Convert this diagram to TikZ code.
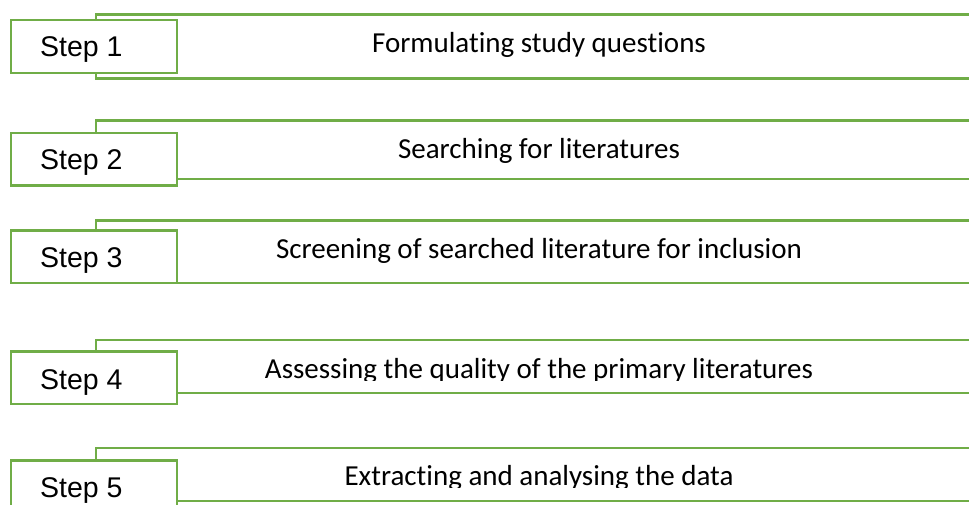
\documentclass[tikz,border=0pt]{standalone}
\usepackage{fontspec}
\setmainfont{Carlito}[Ligatures=NoCommon]
\newfontfamily\labelfont{Liberation Sans}
\definecolor{stepgreen}{HTML}{70AD47}
\begin{document}
\begin{tikzpicture}[x=1pt,y=-1pt,
  frame/.style={draw=stepgreen, line width=2.4pt},
  banner/.style={frame, minimum width=900pt, inner sep=0pt, anchor=north west},
  stepbox/.style={frame, fill=white, minimum width=166pt, minimum height=52.7pt,
                  inner sep=0pt, anchor=north west},
  steplabel/.style={font=\labelfont\fontsize{28.5}{34}\selectfont, inner sep=0pt,
                    anchor=base west},
  title/.style={font=\fontsize{29}{35}\selectfont, inner sep=0pt, anchor=base}]
\clip (0,0) rectangle (969,505);

% Step 1
\node[banner, minimum height=64pt] (b1) at (95,13.3) {};
\node[stepbox] (s1) at (10,19) {};
\node[steplabel] (l1) at (40,57) {Step 1};
\node[title] (t1) at (539,53) {Formulating study questions};

% Step 2
\node[banner, minimum height=58.4pt] (b2) at (95,119.3) {};
\node[stepbox] (s2) at (10,131.7) {};
\node[steplabel] (l2) at (40,169.5) {Step 2};
\node[title] (t2) at (539,158.3) {Searching for literatures};

% Step 3
\node[banner, minimum height=62.7pt] (b3) at (95,219.3) {};
\node[stepbox] (s3) at (10,229.3) {};
\node[steplabel] (l3) at (40,267) {Step 3};
\node[title] (t3) at (539,258.2) {Screening of searched literature for inclusion};

% Step 4 (title cut off just below its baseline)
\node[banner, minimum height=52.7pt] (b4) at (95,339) {};
\node[stepbox] (s4) at (10,350.3) {};
\node[steplabel] (l4) at (40,389) {Step 4};
\begin{scope}
  \clip (200,345) rectangle (900,380.5);
  \node[title] (t4) at (539,378) {Assessing the quality of the primary literatures};
\end{scope}

% Step 5 (title cut off just below its baseline)
\node[banner, minimum height=53.3pt] (b5) at (95,446.7) {};
\node[stepbox] (s5) at (10,459.3) {};
\node[steplabel] (l5) at (40,497.3) {Step 5};
\begin{scope}
  \clip (200,450) rectangle (900,487.5);
  \node[title] (t5) at (539,485) {Extracting and analysing the data};
\end{scope}
\end{tikzpicture}
\end{document}
